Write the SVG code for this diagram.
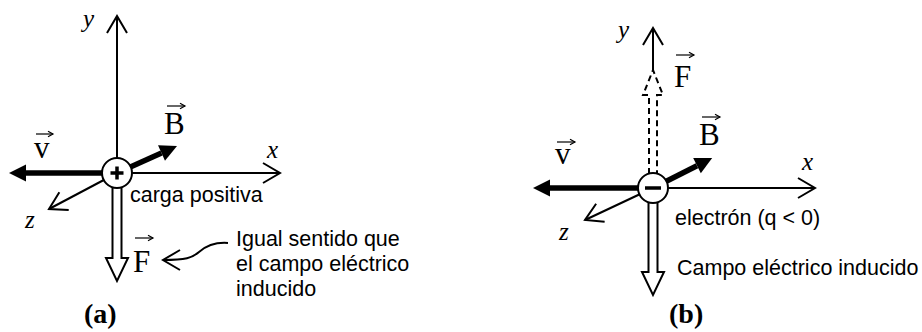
<svg xmlns="http://www.w3.org/2000/svg" width="922" height="332" viewBox="0 0 922 332">
<style>
.ax{stroke:#000;stroke-width:2;fill:none}
.thick{stroke:#000;stroke-width:5.5;fill:none}
.hollow{stroke:#000;stroke-width:2;fill:#fff}
.dash{stroke:#000;stroke-width:2;fill:#fff;stroke-dasharray:6,4}
.ring{stroke:#000;stroke-width:2;fill:#fff}
.sign{stroke:#000;stroke-width:3.5}
.vecbar{stroke:#000;stroke-width:1.2;fill:none}
.lab{font-family:"Liberation Sans",Arial,sans-serif;font-size:21.5px;fill:#000}
.axl{font-family:"Liberation Serif","Times New Roman",serif;font-style:italic;font-size:25px;fill:#000}
.vec{font-family:"Liberation Serif","Times New Roman",serif;font-size:31px;fill:#000}
.cap{font-family:"Liberation Serif","Times New Roman",serif;font-weight:bold;font-size:28px;fill:#000}
</style>
<defs>
<marker id="open" markerUnits="userSpaceOnUse" viewBox="-20 -12 22 24" refX="0" refY="0" markerWidth="22" markerHeight="24" orient="auto" overflow="visible">
<path d="M-17,-10 L0,0 L-17,10" fill="none" stroke="#000" stroke-width="2"/>
</marker>
<marker id="solid" markerUnits="userSpaceOnUse" viewBox="-1 -9 19 18" refX="0" refY="0" markerWidth="19" markerHeight="18" orient="auto" overflow="visible">
<path d="M0,-8.5 L17,0 L0,8.5 z" fill="#000"/>
</marker>
<marker id="small" markerUnits="userSpaceOnUse" viewBox="-7 -4 8 8" refX="0" refY="0" markerWidth="8" markerHeight="8" orient="auto" overflow="visible">
<path d="M-5,-2.8 L0,0 L-5,2.8" fill="none" stroke="#000" stroke-width="1.2"/>
</marker>
</defs>

<g id="connectors">
<!-- panel a -->
<line class="ax" x1="117" y1="173" x2="117" y2="16" marker-end="url(#open)"/>
<line class="ax" x1="117" y1="173" x2="280" y2="173" marker-end="url(#open)"/>
<line class="ax" x1="117" y1="173" x2="49" y2="209" marker-end="url(#open)"/>
<line class="thick" x1="117" y1="173" x2="26" y2="173" marker-end="url(#solid)"/>
<line class="thick" x1="117" y1="173" x2="161.5" y2="153" marker-end="url(#solid)"/>
<path class="hollow" d="M112.5,186 L112.5,258 L106,258 L117,281 L128,258 L121.5,258 L121.5,186"/>
<path class="ax" d="M228,243 C215,242 206,246 199,252 C192,258 186,260 163,260" marker-end="url(#open)"/>
<!-- panel b -->
<line class="ax" x1="653" y1="71" x2="653" y2="28" marker-end="url(#open)"/>
<path class="dash" d="M649,174 L649,95 L643,95 L653,70 L663,95 L657,95 L657,174"/>
<line class="ax" x1="653" y1="188" x2="815" y2="188" marker-end="url(#open)"/>
<line class="ax" x1="653" y1="188" x2="585" y2="220" marker-end="url(#open)"/>
<line class="thick" x1="653" y1="188" x2="550" y2="188" marker-end="url(#solid)"/>
<line class="thick" x1="653" y1="188" x2="697" y2="165.7" marker-end="url(#solid)"/>
<path class="hollow" d="M648.5,201 L648.5,272 L642,272 L653,295 L664,272 L657.5,272 L657.5,201"/>
</g>

<g id="charge-a">
<circle class="ring" cx="117" cy="173" r="15"/>
<line class="sign" x1="110.5" y1="173" x2="123.5" y2="173"/>
<line class="sign" x1="117" y1="166.5" x2="117" y2="179.5"/>
</g>
<g id="charge-b">
<circle class="ring" cx="653" cy="188" r="15"/>
<line class="sign" x1="645" y1="188" x2="661" y2="188"/>
</g>

<g id="labels-a">
<text class="axl" x="83" y="27">y</text>
<text class="axl" x="267" y="158">x</text>
<text class="axl" x="25" y="228">z</text>
<g id="vec-v-a"><text class="vec" x="34" y="158">v</text><line class="vecbar" x1="36" y1="134" x2="53" y2="134" marker-end="url(#small)"/></g>
<g id="vec-B-a"><text class="vec" x="164" y="134">B</text><line class="vecbar" x1="167" y1="106" x2="185" y2="106" marker-end="url(#small)"/></g>
<g id="vec-F-a"><text class="vec" x="133" y="272">F</text><line class="vecbar" x1="135" y1="238" x2="153" y2="238" marker-end="url(#small)"/></g>
<text class="lab" x="130" y="202">carga positiva</text>
<text class="lab" x="236" y="246">Igual sentido que</text>
<text class="lab" x="236" y="271">el campo eléctrico</text>
<text class="lab" x="236" y="296">inducido</text>
<text class="cap" x="84" y="323">(a)</text>
</g>

<g id="labels-b">
<text class="axl" x="618" y="38">y</text>
<text class="axl" x="802" y="170">x</text>
<text class="axl" x="559" y="240">z</text>
<g id="vec-v-b"><text class="vec" x="555" y="164">v</text><line class="vecbar" x1="557" y1="142" x2="575" y2="142" marker-end="url(#small)"/></g>
<g id="vec-B-b"><text class="vec" x="699" y="145">B</text><line class="vecbar" x1="702" y1="117" x2="720" y2="117" marker-end="url(#small)"/></g>
<g id="vec-F-b"><text class="vec" x="674" y="87">F</text><line class="vecbar" x1="676" y1="55" x2="694" y2="55" marker-end="url(#small)"/></g>
<text class="lab" x="675" y="225">electrón (q &lt; 0)</text>
<text class="lab" x="677" y="275">Campo eléctrico inducido</text>
<text class="cap" x="669" y="323">(b)</text>
</g>
</svg>
